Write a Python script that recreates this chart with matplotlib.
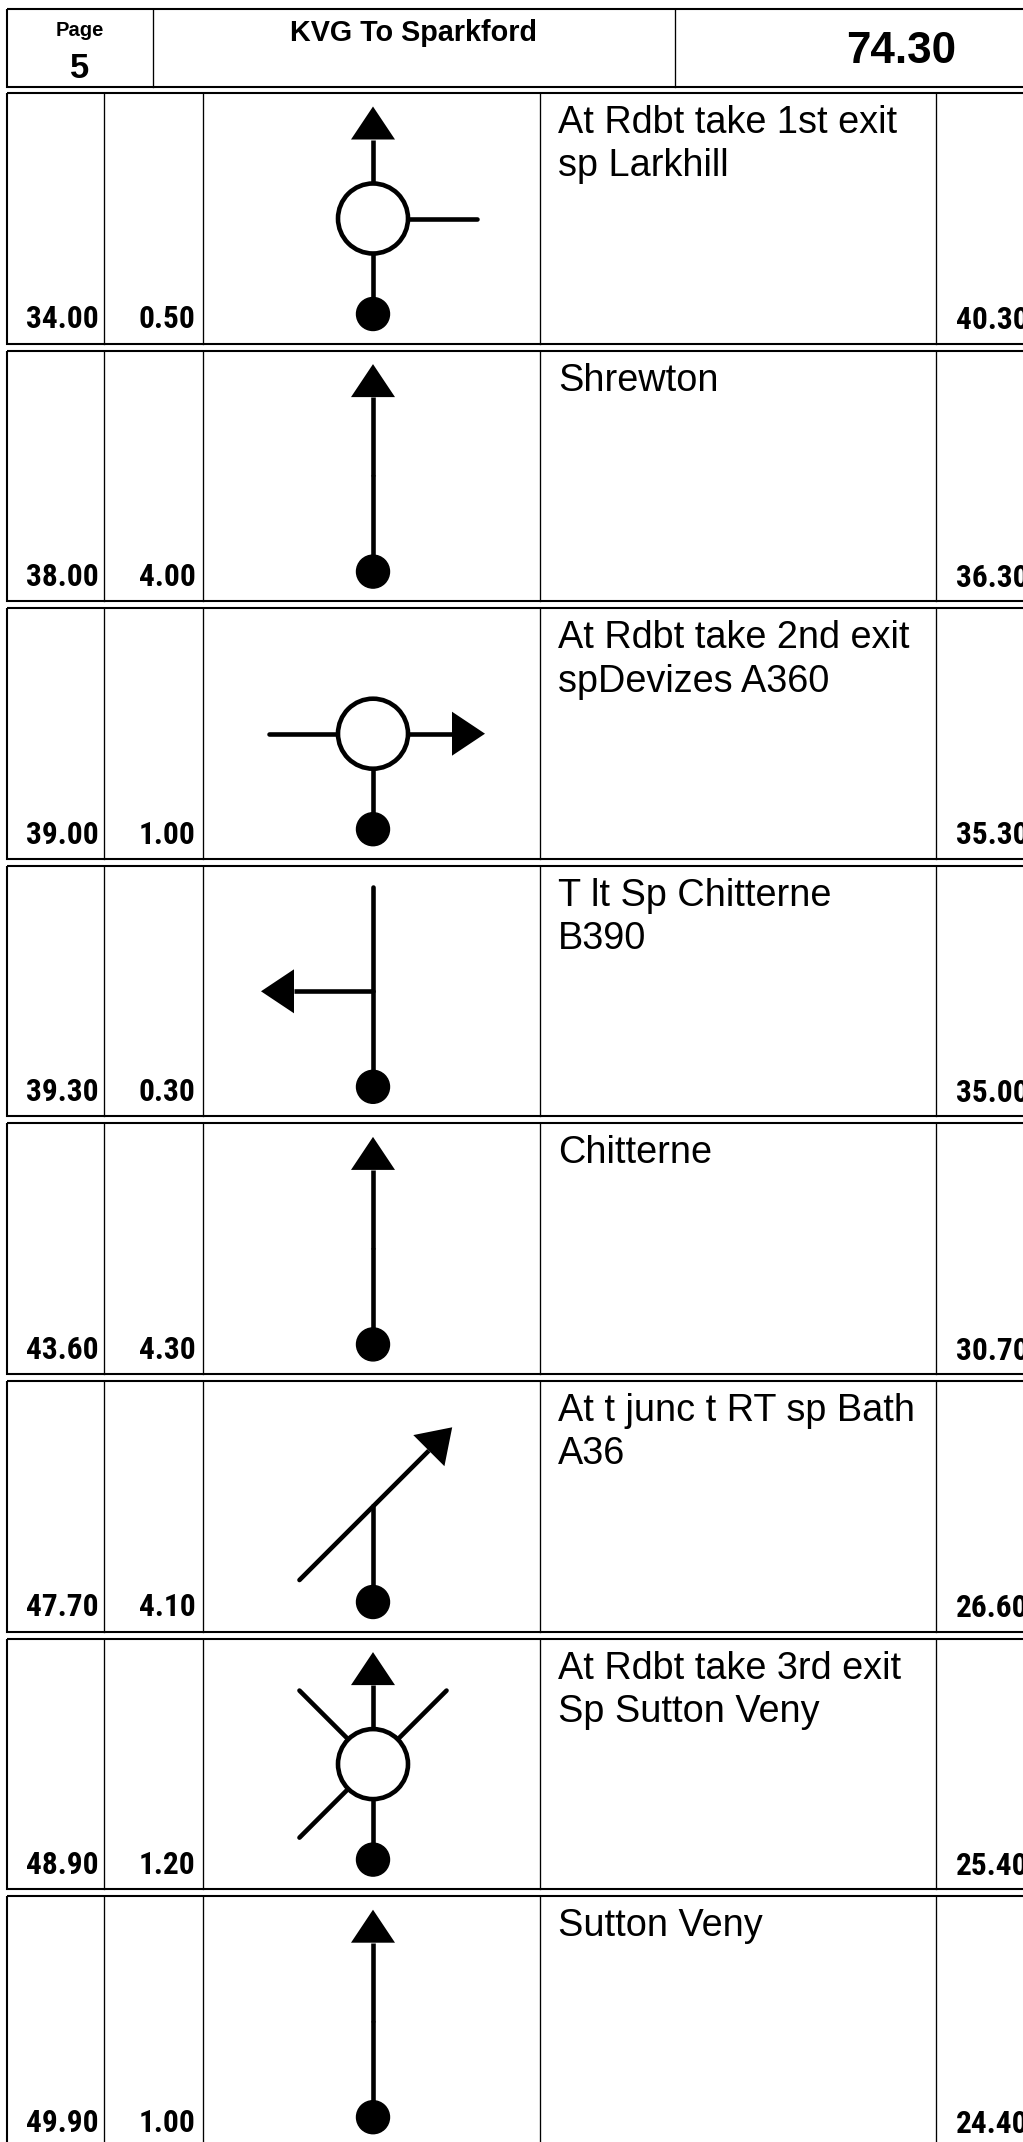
import matplotlib
matplotlib.use("Agg")
import matplotlib.pyplot as plt
from matplotlib.patches import Rectangle, Circle, Polygon
import numpy as np

# ---------------- data ----------------
page = "5"
title = "KVG To Sparkford"
total = "74.30"
cumulative = ["34.00", "38.00", "39.00", "39.30", "43.60", "47.70", "48.90", "49.90"]
partial = ["0.50", "4.00", "1.00", "0.30", "4.30", "4.10", "1.20", "1.00"]
remaining = ["40.30", "36.30", "35.30", "35.00", "30.70", "26.60", "25.40", "24.40"]
instructions = [
    ["At Rdbt take 1st exit", "sp Larkhill"],
    ["Shrewton"],
    ["At Rdbt take 2nd exit", "spDevizes A360"],
    ["T lt Sp Chitterne", "B390"],
    ["Chitterne"],
    ["At t junc t RT sp Bath", "A36"],
    ["At Rdbt take 3rd exit", "Sp Sutton Veny"],
    ["Sutton Veny"],
]
roundabout = [True, False, True, False, False, False, True, False]
exit_angle = [90, 90, 0, 180, 90, 45, 90, 90]          # degrees, 0 = east, 90 = up
other_arms = [[0], [], [180], [90], [], [225], [45, 135, 225], []]

# ---------------- layout (pixels) ----------------
W, H = 1023, 2142
fig = plt.figure(figsize=(W / 100, H / 100), dpi=100)
ax = fig.add_axes([0, 0, 1, 1])
ax.set_xlim(0, W)
ax.set_ylim(H, 0)
ax.axis("off")

NARROW = ["Roboto Condensed", "Liberation Sans", "DejaVu Sans"]
SANS = ["Liberation Sans", "DejaVu Sans"]

x_left = 7.3
x_right = 1200
col_lines = [104.3, 203.0, 539.5, 936.0]
row_top0 = 93.0
row_pitch = 257.6
row_h = 250.5
border_lw = 1.5
col_lw = 0.95
road_lw = 3.3

# header
hdr_top, hdr_bot = 9.3, 87.3
ax.add_patch(Rectangle((x_left, hdr_top), x_right - x_left, hdr_bot - hdr_top,
                       fill=False, ec="black", lw=border_lw, zorder=2))
for xv in (153.0, 675.0):
    ax.plot([xv, xv], [hdr_top, hdr_bot], color="black", lw=col_lw, zorder=2)
ax.text(80, 36, "Page", ha="center", va="baseline", fontsize=14.5,
        fontweight="bold", family=SANS)
ax.text(80, 78.3, page, ha="center", va="baseline", fontsize=25,
        fontweight="bold", family=SANS)
ax.text(414, 41, title, ha="center", va="baseline", fontsize=20.7,
        fontweight="bold", family=SANS)
ax.text(901, 63.3, total, ha="center", va="baseline", fontsize=31.7,
        fontweight="bold", family=SANS)

# rows
for i in range(len(cumulative)):
    T = row_top0 + row_pitch * i
    ax.add_patch(Rectangle((x_left, T), x_right - x_left, row_h,
                           fill=False, ec="black", lw=border_lw, zorder=2))
    for xv in col_lines:
        ax.plot([xv, xv], [T, T + row_h], color="black", lw=col_lw, zorder=2)

    base_y = T + 235.3
    ax.text(99, base_y, cumulative[i], ha="right", va="baseline",
            fontsize=22.6, fontweight="bold", family=NARROW)
    ax.text(195.5, base_y, partial[i], ha="right", va="baseline",
            fontsize=22.6, fontweight="bold", family=NARROW)
    ax.text(956, base_y + 1, remaining[i], ha="left", va="baseline",
            fontsize=22.6, fontweight="bold", family=NARROW)

    for k, line in enumerate(instructions[i]):
        ax.text(558.3, T + 40 + 43.3 * k, line, ha="left", va="baseline",
                fontsize=27.3, family=SANS)

    # tulip diagram
    cx, cy = 373.0, T + 125.5
    dot_y = T + 221.0
    ax.plot([cx, cx], [cy, dot_y], color="black", lw=road_lw,
            solid_capstyle="round", zorder=3)
    ax.add_patch(Circle((cx, dot_y), 16.5, color="black", zorder=5))
    for ang in other_arms[i]:
        a = np.deg2rad(ang)
        L = 104.0
        ax.plot([cx, cx + L * np.cos(a)], [cy, cy - L * np.sin(a)],
                color="black", lw=road_lw, solid_capstyle="round", zorder=3)
    a = np.deg2rad(exit_angle[i])
    ux, uy = np.cos(a), -np.sin(a)
    px, py = -uy, ux
    tip, base, half = 112.0, 79.0, 22.0
    ax.plot([cx, cx + base * ux], [cy, cy + base * uy], color="black",
            lw=road_lw, solid_capstyle="butt", zorder=3)
    tri = [(cx + tip * ux, cy + tip * uy),
           (cx + base * ux + half * px, cy + base * uy + half * py),
           (cx + base * ux - half * px, cy + base * uy - half * py)]
    ax.add_patch(Polygon(tri, closed=True, color="black", lw=0, zorder=5))
    if roundabout[i]:
        ax.add_patch(Circle((cx, cy), 35.0, fc="white", ec="black",
                            lw=road_lw, zorder=4))

fig.savefig("out.png", dpi=100, facecolor="white")
